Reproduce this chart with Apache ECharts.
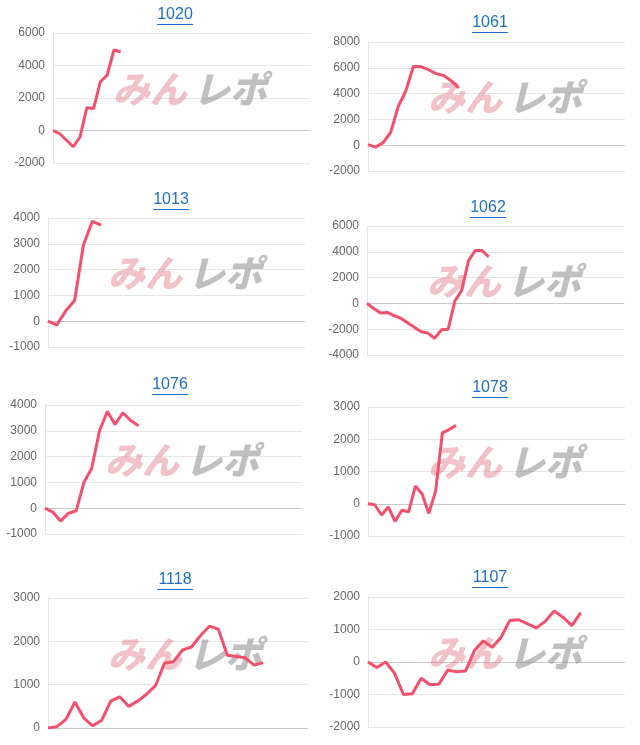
<!DOCTYPE html>
<html><head><meta charset="utf-8">
<script src="https://cdn.jsdelivr.net/npm/echarts@6/dist/echarts.min.js"></script>
<style>html,body{margin:0;padding:0;background:#fff}#c{width:640px;height:745px}</style>
</head><body><div id="c"></div>
<script>
const titles = ['1020','1061','1013','1062','1076','1078','1118','1107'];
const slotCounts = [39,35,30,39,34,39,30,30];
const yMins = [-2000,-2000,-1000,-4000,-1000,-1000,0,-2000];
const yMaxs = [6000,8000,4000,6000,4000,3000,3000,2000];
const yIntervals = [2000,2000,1000,2000,1000,1000,1000,1000];
const s1020 = [0,-200,-600,-1000,-400,1400,1350,3000,3400,4950,4850];
const s1061 = [50,-150,200,1000,3000,4200,6100,6100,5850,5550,5400,5000,4450];
const s1013 = [0,-150,400,800,2950,3870,3720];
const s1062 = [0,-400,-750,-700,-950,-1150,-1500,-1850,-2200,-2300,-2700,-2050,-2000,200,1000,3300,4100,4100,3600];
const s1076 = [0,-150,-500,-200,-100,1000,1550,3000,3750,3250,3700,3400,3200];
const s1078 = [0,-30,-350,-100,-550,-200,-250,550,300,-300,400,2200,2300,2430];
const s1118 = [0,30,200,600,230,50,180,620,720,500,620,780,980,1500,1530,1800,1870,2130,2350,2280,1680,1650,1620,1450,1510];
const s1107 = [0,-170,0,-350,-1000,-980,-500,-700,-680,-250,-300,-280,350,650,450,750,1280,1300,1170,1050,1250,1570,1380,1120,1520];
const seriesData = [s1020,s1061,s1013,s1062,s1076,s1078,s1118,s1107];

const boxes = [
  [53,33,310,163],[368,42,625,171],
  [48,218,305,347],[367,226,624,355],
  [45,405,302,534],[368,407,625,536],
  [48,598,308,728],[368,597,625,727]
];
const titleY = [15,23,200,208,385,388,580,578];
const titleX = [175,490,171,488,170,490,175,490];

const grid=[],xAxis=[],yAxis=[],series=[],graphic=[];
boxes.forEach((b,i)=>{
  grid.push({left:b[0],top:b[1],width:b[2]-b[0],height:b[3]-b[1]});
  const cats = Array.from({length:slotCounts[i]},(_,k)=>String(k+1));
  xAxis.push({type:'category',gridIndex:i,data:cats,boundaryGap:false,
    axisLabel:{show:false},axisTick:{show:false},
    axisLine:{show:true,onZero:true,lineStyle:{color:'#c8c8c8',width:1}},splitLine:{show:false}});
  yAxis.push({type:'value',gridIndex:i,min:yMins[i],max:yMaxs[i],interval:yIntervals[i],
    axisLabel:{color:'#666',fontSize:12,fontFamily:'Arial, Liberation Sans',margin:8,formatter:v=>String(v)},
    axisLine:{show:true,lineStyle:{color:'#e6e6e6'}},axisTick:{show:false},
    splitLine:{lineStyle:{color:'#e6e6e6'}}});
  series.push({type:'line',xAxisIndex:i,yAxisIndex:i,data:seriesData[i],showSymbol:false,
    lineStyle:{color:'#f2506c',width:3},z:3});
  const cx=titleX[i], w=titles[i].length*9;
  graphic.push({type:'text',x:cx,y:titleY[i],z:10,
    style:{text:titles[i],fill:'#1f6fc4',font:'16px Arial, "Liberation Sans"',align:'center',verticalAlign:'middle'}});
  graphic.push({type:'rect',x:cx-w/2,y:titleY[i]+9,z:10,shape:{width:w,height:1},style:{fill:'#1f6fc4'}});
  const wy=(b[1]+b[3])/2-28, wx=b[0]+60;
  graphic.push({type:'text',left:wx,top:wy,z:1,silent:true,
    style:{text:'みん',fill:'rgba(225,120,130,0.45)',font:'italic 900 37px "Noto Sans CJK JP"'}});
  graphic.push({type:'text',left:wx+80,top:wy,z:1,silent:true,
    style:{text:'レポ',fill:'rgba(140,140,140,0.55)',font:'italic 900 37px "Noto Sans CJK JP"'}});
});
const chart=echarts.init(document.getElementById('c'));
chart.setOption({animation:false,grid,xAxis,yAxis,series,graphic});
</script></body></html>
